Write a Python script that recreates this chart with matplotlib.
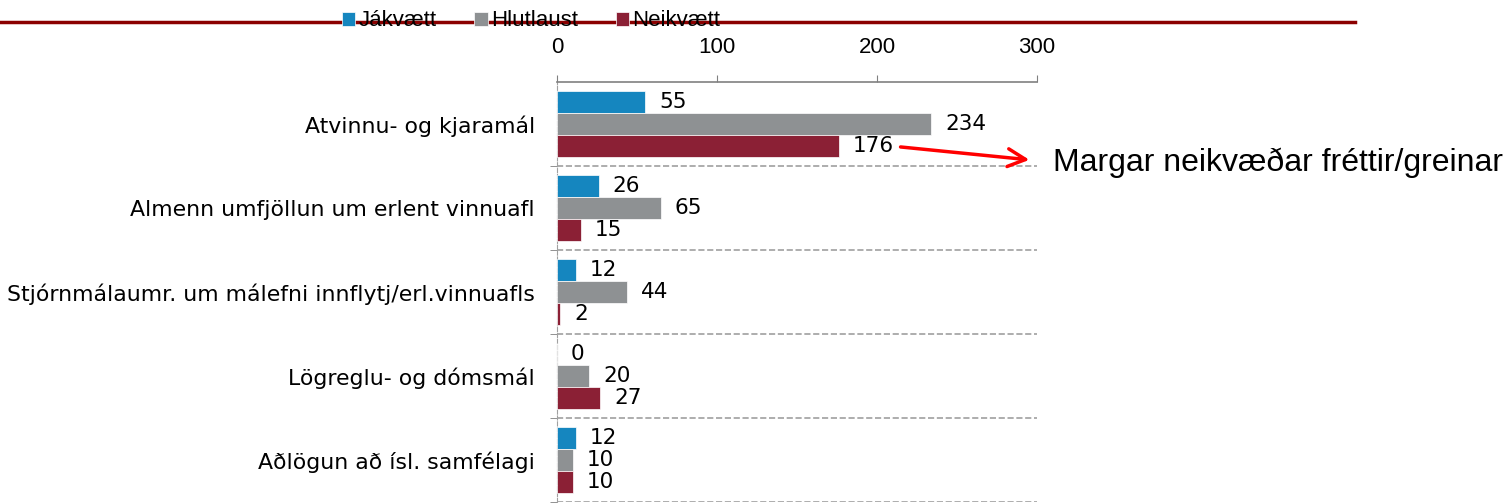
import matplotlib
matplotlib.use('Agg')
import matplotlib.pyplot as plt
from matplotlib.lines import Line2D
import numpy as np

categories = ['Atvinnu- og kjaramál',
              'Almenn umfjöllun um erlent vinnuafl',
              'Stjórnmálaumr. um málefni innflytj/erl.vinnuafls',
              'Lögreglu- og dómsmál',
              'Aðlögun að ísl. samfélagi']
jakvaett = [55, 26, 12, 0, 12]
hlutlaust = [234, 65, 44, 20, 10]
neikvaett = [176, 15, 2, 27, 10]
series_names = ['Jákvætt', 'Hlutlaust', 'Neikvætt']
colors = ['#1586BF', '#8E9193', '#8B2035']

fig = plt.figure(figsize=(15.04, 5.03), dpi=100)
ax = fig.add_axes([557/1504, 1 - 502/503, 480/1504, 420/503])

y = np.arange(len(categories))
h = 0.262
for vals, off, c, name in zip([jakvaett, hlutlaust, neikvaett], [-h, 0, h], colors, series_names):
    bars = ax.barh(y + off, vals, height=h, color=c, label=name,
                   edgecolor='white', linewidth=0.5, zorder=3)
    for b, v in zip(bars, vals):
        ax.annotate(str(v), (b.get_width(), b.get_y() + b.get_height() / 2),
                    xytext=(10, 0), textcoords='offset points',
                    va='center', ha='left', fontsize=15.5, family='DejaVu Sans')

ax.set_xlim(0, 300)
ax.set_ylim(len(categories) - 0.5, -0.5)
ax.xaxis.tick_top()
ax.set_xticks([0, 100, 200, 300])
ax.tick_params(axis='x', length=5, color='#808080', labelsize=16, pad=12)
for lbl in ax.get_xticklabels():
    lbl.set_family('Liberation Sans')
ax.set_yticks(y)
ax.set_yticklabels(categories, fontsize=15.8, family='DejaVu Sans')
ax.tick_params(axis='y', which='major', length=0, pad=16)
ax.set_yticks(np.arange(len(categories)) + 0.5, minor=True)
ax.tick_params(axis='y', which='minor', length=5, color='#808080')
ax.grid(axis='y', which='minor', linestyle='--', color='#A0A0A0', linewidth=1.2)

for s in ['right', 'bottom']:
    ax.spines[s].set_visible(False)
ax.spines['top'].set_color('#808080')
ax.spines['top'].set_linewidth(1.2)
ax.spines['left'].set_color('#A0A0A0')
ax.spines['left'].set_linestyle('--')

ax.annotate('', xy=(297, 0.43), xytext=(213, 0.27),
            arrowprops=dict(arrowstyle='->', color='red', lw=2.5, mutation_scale=32),
            annotation_clip=False)
ax.text(310, 0.46, 'Margar neikvæðar fréttir/greinar', fontsize=23,
        family='Liberation Sans', va='center', ha='left', clip_on=False)

fig.add_artist(Line2D([0, 1355/1504], [1 - 22/503, 1 - 22/503],
                      color='#8B0000', linewidth=2.5, zorder=0))
leg = fig.legend(loc='center', bbox_to_anchor=(531/1504, 1 - 21/503), ncol=3,
                 frameon=False, handlelength=0.6, handleheight=0.6,
                 handletextpad=0.15, columnspacing=1.7,
                 prop={'family': 'Liberation Sans', 'size': 16})

fig.savefig('out.png', dpi=100)
